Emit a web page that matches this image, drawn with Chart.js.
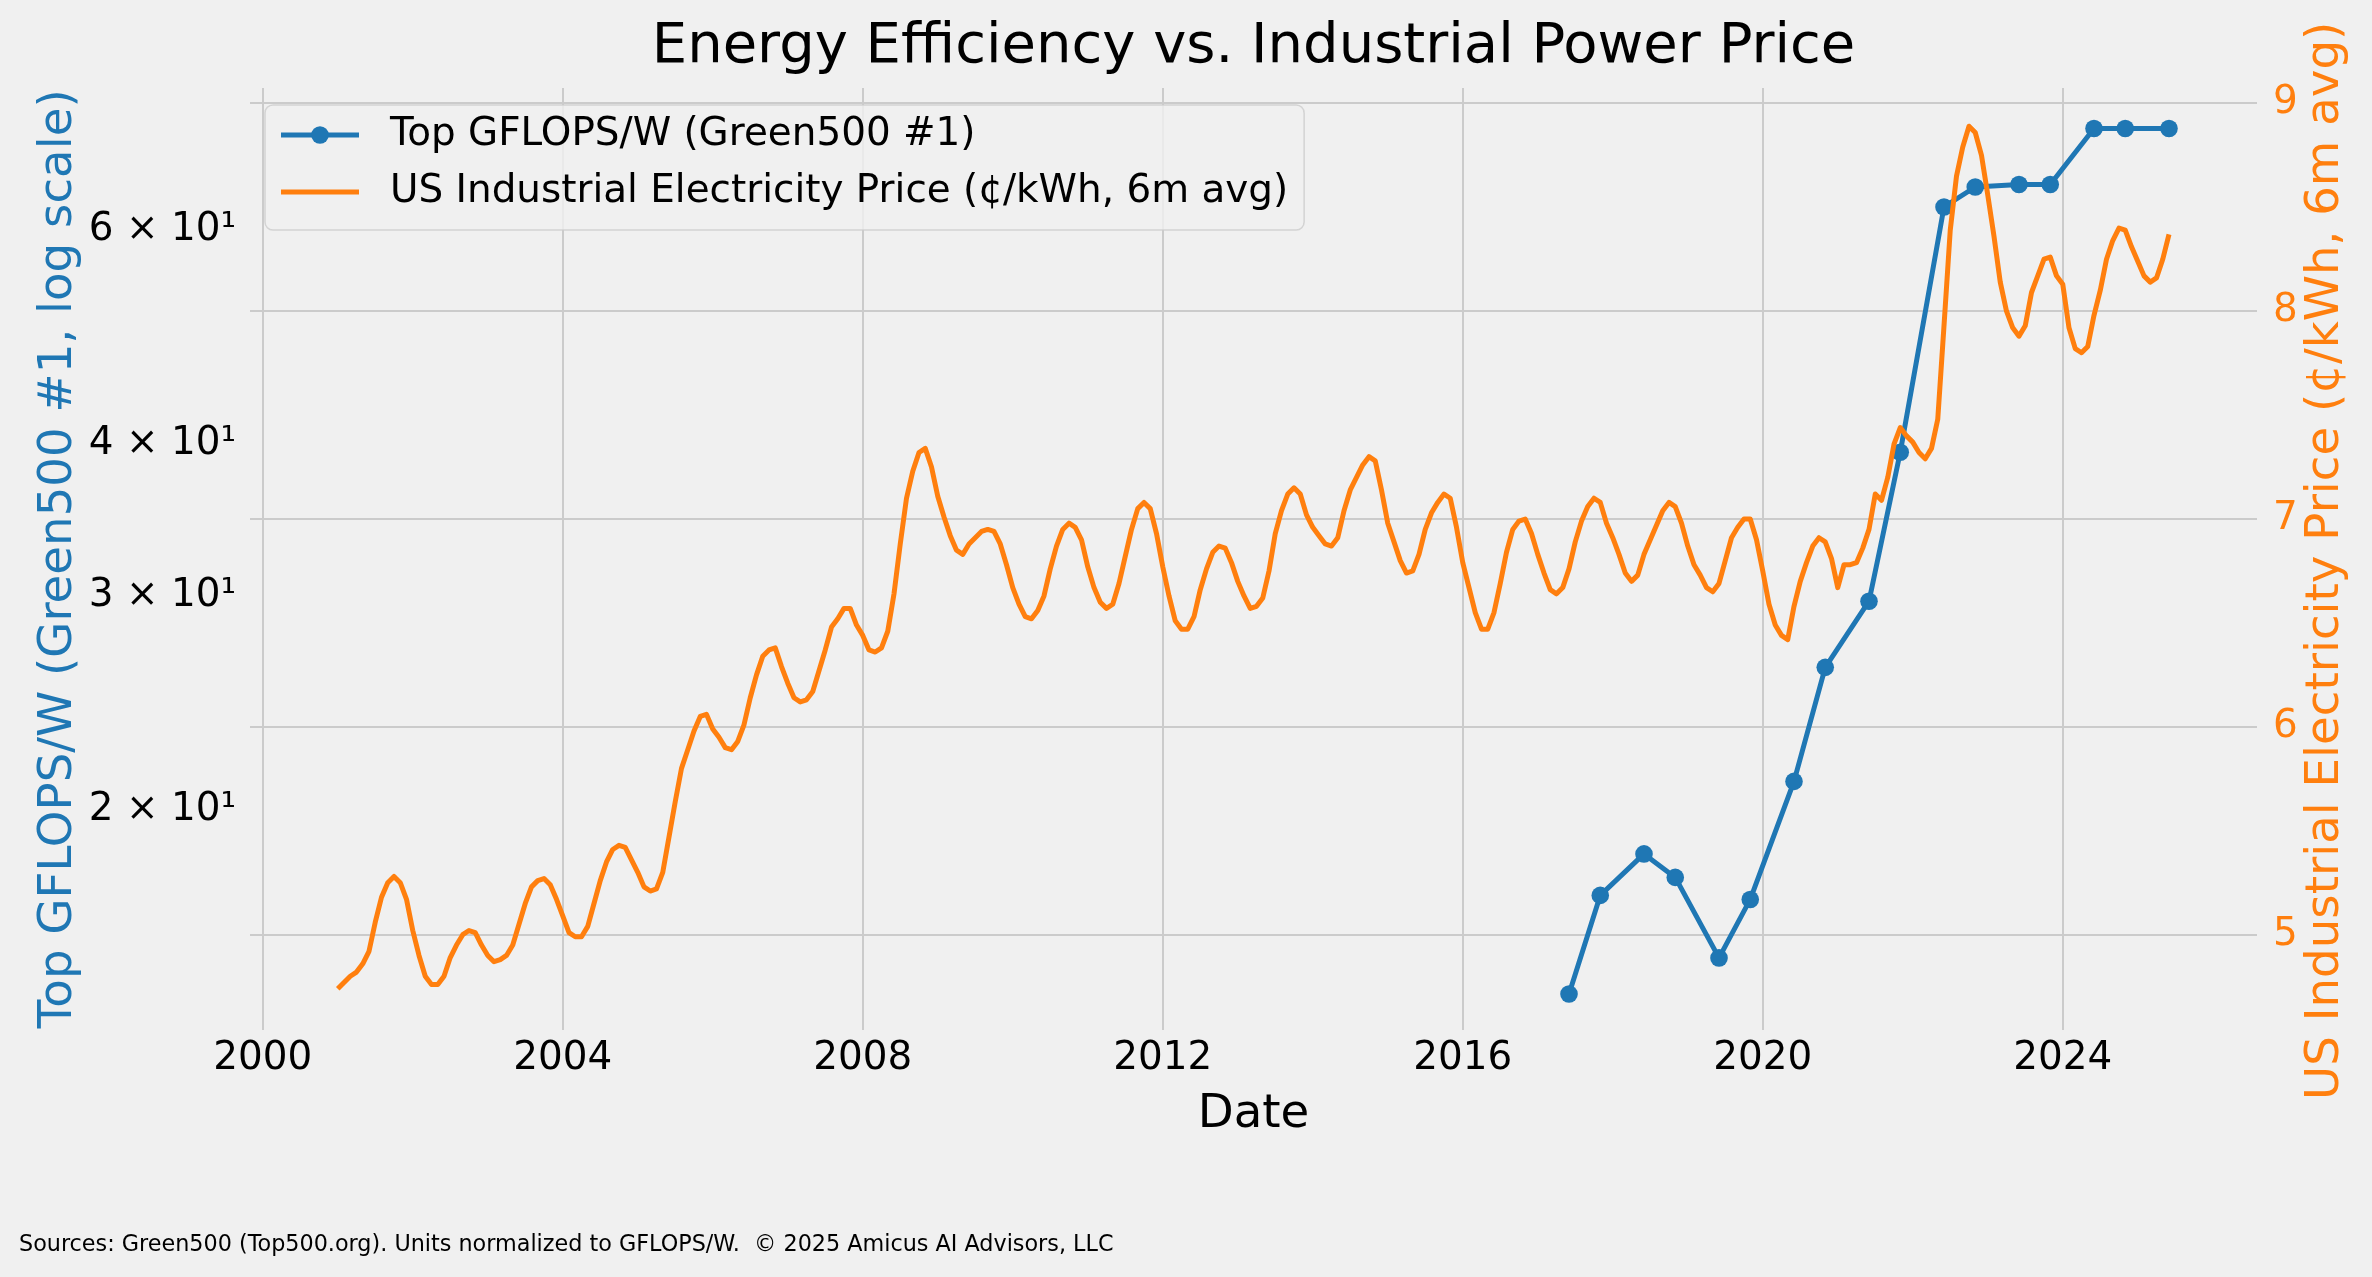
<!DOCTYPE html>
<html>
<head>
<meta charset="utf-8">
<title>Energy Efficiency vs. Industrial Power Price</title>
<script src="https://cdn.jsdelivr.net/npm/chart.js@4.4.0/dist/chart.umd.min.js"></script>
<style>
    html, body { margin: 0; padding: 0; background: #f0f0f0; }
    canvas { display: block; }
</style>
</head>
<body>
<canvas id="grafica" width="2372" height="1277"></canvas>
<script>
    // Green500 #1, listas de junio y noviembre
    var listasGreen500 = ['2017-06', '2017-11', '2018-06', '2018-11', '2019-06', '2019-11',
        '2020-06', '2020-11', '2021-06', '2021-11', '2022-06', '2022-11',
        '2023-06', '2023-11', '2024-06', '2024-11', '2025-06'];
    var gflopsPorWatt = [14.11, 17.01, 18.40, 17.60, 15.11, 16.88,
        21.11, 26.20, 29.70, 39.38, 62.68, 65.09,
        65.40, 65.40, 72.73, 72.73, 72.73];

    // precio industrial mensual (media 6 meses), desde enero 2001
    var inicioPrecio = '2001-01';
    var precioIndustrial = [
        4.74, 4.77, 4.80, 4.82, 4.86, 4.92, 5.06, 5.18, 5.25, 5.28, 5.25, 5.17,
        5.02, 4.90, 4.80, 4.76, 4.76, 4.80, 4.89, 4.95, 5.00, 5.02, 5.01, 4.95,
        4.90, 4.87, 4.88, 4.90, 4.95, 5.05, 5.15, 5.23, 5.26, 5.27, 5.24, 5.17,
        5.09, 5.01, 4.99, 4.99, 5.04, 5.15, 5.26, 5.35, 5.41, 5.43, 5.42, 5.36,
        5.30, 5.23, 5.21, 5.22, 5.30, 5.47, 5.64, 5.80, 5.89, 5.98, 6.05, 6.06,
        5.99, 5.95, 5.90, 5.89, 5.93, 6.01, 6.14, 6.25, 6.34, 6.37, 6.38, 6.29,
        6.21, 6.14, 6.12, 6.13, 6.17, 6.27, 6.37, 6.48, 6.52, 6.57, 6.57, 6.49,
        6.44, 6.37, 6.36, 6.38, 6.46, 6.64, 6.88, 7.10, 7.23, 7.32, 7.34, 7.25,
        7.11, 7.01, 6.92, 6.85, 6.83, 6.88, 6.91, 6.94, 6.95, 6.94, 6.88, 6.78,
        6.67, 6.59, 6.53, 6.52, 6.56, 6.63, 6.76, 6.87, 6.95, 6.98, 6.96, 6.90,
        6.77, 6.67, 6.60, 6.57, 6.59, 6.69, 6.82, 6.95, 7.05, 7.08, 7.05, 6.93,
        6.77, 6.63, 6.51, 6.47, 6.47, 6.53, 6.66, 6.76, 6.84, 6.87, 6.86, 6.79,
        6.70, 6.63, 6.57, 6.58, 6.62, 6.75, 6.93, 7.04, 7.12, 7.15, 7.12, 7.02,
        6.96, 6.92, 6.88, 6.87, 6.91, 7.04, 7.14, 7.20, 7.26, 7.30, 7.28, 7.14,
        6.98, 6.89, 6.80, 6.74, 6.75, 6.83, 6.95, 7.03, 7.08, 7.12, 7.10, 6.96,
        6.79, 6.67, 6.55, 6.47, 6.47, 6.55, 6.69, 6.84, 6.95, 6.99, 7.00, 6.93,
        6.83, 6.74, 6.66, 6.64, 6.67, 6.76, 6.89, 6.99, 7.06, 7.10, 7.08, 6.98,
        6.91, 6.83, 6.74, 6.70, 6.73, 6.83, 6.90, 6.97, 7.04, 7.08, 7.06, 6.98,
        6.87, 6.78, 6.73, 6.67, 6.65, 6.69, 6.80, 6.91, 6.96, 7.00, 7.00, 6.90,
        6.75, 6.59, 6.49, 6.44, 6.42, 6.58, 6.70, 6.79, 6.87, 6.91, 6.89, 6.81,
        6.67, 6.78, 6.78, 6.79, 6.86, 6.95, 7.12, 7.09, 7.20, 7.36, 7.44, 7.40,
        7.37, 7.32, 7.29, 7.34, 7.48, 7.93, 8.39, 8.65, 8.79, 8.89, 8.86, 8.75,
        8.56, 8.36, 8.14, 8.00, 7.92, 7.88, 7.93, 8.09, 8.17, 8.25, 8.26, 8.17,
        8.13, 7.92, 7.82, 7.80, 7.83, 7.98, 8.10, 8.25, 8.34, 8.40, 8.39, 8.31,
        8.24, 8.17, 8.14, 8.16, 8.25, 8.37
    ];

    var ticksAnio = [2000, 2004, 2008, 2012, 2016, 2020, 2024];
    var ticksGflops = [20, 30, 40, 60];
    var ticksPrecio = [5, 6, 7, 8, 9];

    var azul = '#1f77b4';
    var naranja = '#ff7f0e';
    var rejilla = '#cbcbcb';

    function aAnio(fecha) {
        var partes = fecha.split('-');
        return Number(partes[0]) + (Number(partes[1]) - 1) / 12;
    }

    function fijarTicks(lista) {
        return function(escala) {
            escala.ticks = lista.map(function(v) { return { value: v }; });
        };
    }

    function formatoLog(valor) {
        var superindice = { '0': '⁰', '1': '¹', '2': '²', '3': '³' };
        var exp = Math.floor(Math.log10(valor) + 1e-9);
        var mantisa = Math.round(valor / Math.pow(10, exp));
        return mantisa + ' × 10' + String(exp).split('').map(function(c) { return superindice[c]; }).join('');
    }

    var puntosGreen = listasGreen500.map(function(f, i) {
        return { x: aAnio(f), y: gflopsPorWatt[i] };
    });
    var puntosPrecio = precioIndustrial.map(function(p, i) {
        return { x: aAnio(inicioPrecio) + i / 12, y: p };
    });

    // leyenda dentro del area, arriba a la izquierda
    var leyenda = {
        id: 'leyenda',
        afterDraw: function(chart) {
            var ctx = chart.ctx;
            var series = chart.data.datasets;
            ctx.save();
            ctx.font = '38.9px "DejaVu Sans"';
            var ancho = 0;
            series.forEach(function(s) {
                ancho = Math.max(ancho, ctx.measureText(s.label).width);
            });
            var x0 = 265, y0 = 105, alto = 125;
            var w = 390 - x0 + ancho + 16;
            ctx.beginPath();
            ctx.roundRect(x0, y0, w, alto, 8);
            ctx.fillStyle = 'rgba(240,240,240,0.8)';
            ctx.fill();
            ctx.strokeStyle = 'rgba(204,204,204,0.8)';
            ctx.lineWidth = 1.5;
            ctx.stroke();

            var filas = [135, 192];
            series.forEach(function(s, i) {
                var y = filas[i];
                ctx.strokeStyle = s.borderColor;
                ctx.lineWidth = s.borderWidth;
                ctx.beginPath();
                ctx.moveTo(281, y);
                ctx.lineTo(359, y);
                ctx.stroke();
                if (s.pointRadius > 0) {
                    ctx.fillStyle = s.borderColor;
                    ctx.beginPath();
                    ctx.arc(320, y, s.pointRadius, 0, Math.PI * 2);
                    ctx.fill();
                }
                ctx.fillStyle = '#000';
                ctx.textAlign = 'left';
                ctx.textBaseline = 'middle';
                ctx.fillText(s.label, 390, y);
            });
            ctx.restore();
        }
    };

    // titulo del eje derecho, leido de abajo hacia arriba
    var tituloDerecho = {
        id: 'tituloDerecho',
        afterDraw: function(chart) {
            var ctx = chart.ctx;
            var escala = chart.scales.y2;
            ctx.save();
            ctx.translate(escala.right - 46, (chart.chartArea.top + chart.chartArea.bottom) / 2 + 2);
            ctx.rotate(-Math.PI / 2);
            ctx.font = '46.7px "DejaVu Sans"';
            ctx.fillStyle = naranja;
            ctx.textAlign = 'center';
            ctx.textBaseline = 'middle';
            ctx.fillText('US Industrial Electricity Price (¢/kWh, 6m avg)', 0, 0);
            ctx.restore();
        }
    };

    Chart.defaults.font.family = '"DejaVu Sans", sans-serif';
    Chart.defaults.color = '#000';

    var ctx = document.getElementById('grafica').getContext('2d');
    var myChart = new Chart(ctx, {
        type: 'line',
        data: {
            datasets: [
                {
                    label: 'Top GFLOPS/W (Green500 #1)',
                    data: puntosGreen,
                    yAxisID: 'y',
                    borderColor: azul,
                    backgroundColor: azul,
                    borderWidth: 5,
                    borderJoinStyle: 'round',
                    pointRadius: 8.8,
                    pointBorderWidth: 0,
                    pointBackgroundColor: azul,
                    order: 1
                },
                {
                    label: 'US Industrial Electricity Price (¢/kWh, 6m avg)',
                    data: puntosPrecio,
                    yAxisID: 'y2',
                    borderColor: naranja,
                    backgroundColor: naranja,
                    borderWidth: 5,
                    borderJoinStyle: 'round',
                    pointRadius: 0,
                    order: 0
                }
            ]
        },
        options: {
            responsive: false,
            animation: false,
            devicePixelRatio: 1,
            events: [],
            layout: { padding: { left: 19, right: 0, top: 0, bottom: 0 } },
            plugins: {
                legend: { display: false },
                tooltip: { enabled: false },
                title: {
                    display: true,
                    fullSize: false,
                    text: 'Energy Efficiency vs. Industrial Power Price',
                    color: '#000',
                    font: { size: 56, weight: 'normal' },
                    padding: { top: 14, bottom: 6.8 }
                },
                subtitle: {
                    display: true,
                    position: 'bottom',
                    align: 'start',
                    text: 'Sources: Green500 (Top500.org). Units normalized to GFLOPS/W.  © 2025 Amicus AI Advisors, LLC',
                    color: '#000',
                    font: { size: 22.3, weight: 'normal' },
                    padding: { top: 10, bottom: 18.8 }
                }
            },
            scales: {
                x: {
                    type: 'linear',
                    min: 1999.83,
                    max: 2026.59,
                    bounds: 'data',
                    afterBuildTicks: fijarTicks(ticksAnio),
                    afterFit: function(escala) { escala.height = 191.8; },
                    grid: { color: rejilla, lineWidth: 2, drawTicks: false },
                    border: { display: false },
                    ticks: {
                        padding: 5.7,
                        color: '#000',
                        font: { size: 38.9 },
                        maxRotation: 0,
                        callback: function(v) { return String(v); }
                    },
                    title: {
                        display: true,
                        text: 'Date',
                        color: '#000',
                        font: { size: 46.7 },
                        padding: { top: 0, bottom: 78.8 }
                    }
                },
                y: {
                    type: 'logarithmic',
                    position: 'left',
                    min: 13.19,
                    max: 78.52,
                    bounds: 'data',
                    afterBuildTicks: fijarTicks(ticksGflops),
                    afterFit: function(escala) { escala.width = 231; },
                    grid: { display: false, drawTicks: false },
                    border: { display: false },
                    ticks: {
                        padding: 14,
                        color: '#000',
                        font: { size: 38.9 },
                        callback: function(v) { return formatoLog(v); }
                    },
                    title: {
                        display: true,
                        text: 'Top GFLOPS/W (Green500 #1, log scale)',
                        color: azul,
                        font: { size: 46.7 },
                        padding: { top: 11.5, bottom: 0 }
                    }
                },
                y2: {
                    type: 'linear',
                    position: 'right',
                    min: 4.543,
                    max: 9.074,
                    bounds: 'data',
                    afterBuildTicks: fijarTicks(ticksPrecio),
                    afterFit: function(escala) { escala.width = 115; },
                    grid: { color: rejilla, lineWidth: 2, drawTicks: false },
                    border: { display: false },
                    ticks: {
                        padding: 16,
                        color: naranja,
                        font: { size: 38.9 },
                        callback: function(v) { return String(v); }
                    }
                }
            }
        },
        plugins: [leyenda, tituloDerecho]
    });
</script>
</body>
</html>
